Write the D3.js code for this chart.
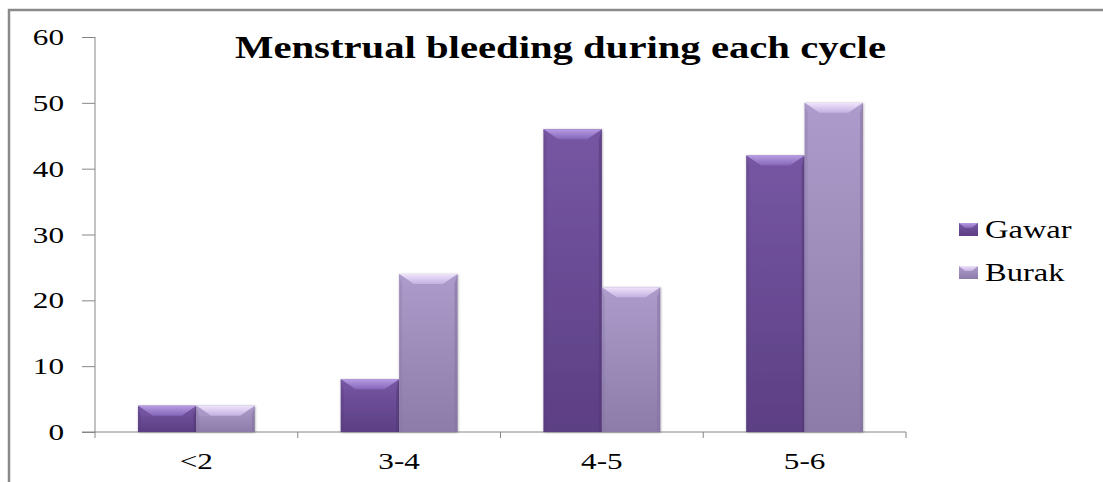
<!DOCTYPE html>
<html>
<head>
<meta charset="utf-8">
<script src="https://cdn.jsdelivr.net/npm/d3@7"></script>
<style>
  html, body { margin: 0; padding: 0; background: #fff; }
  svg { display: block; }
  text { font-family: "Liberation Serif", "Times New Roman", serif; fill: #000; }
</style>
</head>
<body>
<svg id="chart" width="1103" height="482"></svg>
<script>
// Days of menstrual bleeding per cycle, by group
const categories = ["<2", "3-4", "4-5", "5-6"];
const seriesNames = ["Gawar", "Burak"];
const gawarValues = [4, 8, 46, 42];
const burakValues = [4, 24, 22, 50];
const yTicks = [0, 10, 20, 30, 40, 50, 60];
const titleText = "Menstrual bleeding during each cycle";

const svg = d3.select("#chart");
const W = 1103, H = 482;
const plot = { left: 95, right: 906, top: 37, bottom: 432 };
const stretch = 1.3;   // wide typeface look

const palette = {
  Gawar: { bodyTop: "#7656a3", bodyBot: "#5c3f84", bevTop: "#b79ce4", bevBot: "#8466b8", side: "#553a7a" },
  Burak: { bodyTop: "#ad9ccb", bodyBot: "#8d7ca9", bevTop: "#efe4fc", bevBot: "#c4b1e0", side: "#85739f" }
};

const defs = svg.append("defs");
Object.entries(palette).forEach(([name, c]) => {
  const g1 = defs.append("linearGradient").attr("id", "body-" + name)
    .attr("x1", 0).attr("y1", 0).attr("x2", 0).attr("y2", 1);
  g1.append("stop").attr("offset", "0%").attr("stop-color", c.bodyTop);
  g1.append("stop").attr("offset", "100%").attr("stop-color", c.bodyBot);
  const g2 = defs.append("linearGradient").attr("id", "bev-" + name)
    .attr("x1", 0).attr("y1", 0).attr("x2", 0).attr("y2", 1);
  g2.append("stop").attr("offset", "0%").attr("stop-color", c.bevTop);
  g2.append("stop").attr("offset", "100%").attr("stop-color", c.bevBot);
});
const shadow = defs.append("filter").attr("id", "soft")
  .attr("x", "-20%").attr("y", "-20%").attr("width", "140%").attr("height", "140%");
shadow.append("feDropShadow").attr("dx", 0.5).attr("dy", 0.5).attr("stdDeviation", 1.2)
  .attr("flood-color", "#000").attr("flood-opacity", 0.35);

// frame
svg.append("path")
  .attr("d", `M9,${H} L9,10 L${W},10`)
  .attr("fill", "none").attr("stroke", "#8a8a8a").attr("stroke-width", 2.5);

const x0 = d3.scaleBand().domain(categories).range([plot.left, plot.right]).paddingInner(0.424).paddingOuter(0.212);
const x1 = d3.scaleBand().domain(seriesNames).range([0, x0.bandwidth()]);
const y = d3.scaleLinear().domain([0, 60]).range([plot.bottom, plot.top]);

function stretchText(sel, k) {
  sel.each(function () {
    const w = this.getComputedTextLength();
    d3.select(this).attr("textLength", w * k).attr("lengthAdjust", "spacingAndGlyphs");
  });
}

// y axis
const yAxis = svg.append("g").attr("transform", `translate(${plot.left},0)`)
  .call(d3.axisLeft(y).tickValues(yTicks).tickSize(13).tickSizeOuter(0).tickFormat(d3.format("d")));
yAxis.select(".domain").attr("stroke", "#868686").attr("d", `M0,${plot.top}V${plot.bottom + 6}`);
yAxis.selectAll(".tick line").attr("stroke", "#868686");
yAxis.selectAll(".tick text").remove();
const yLab = svg.append("g").selectAll("text").data(yTicks).join("text")
  .attr("y", d => y(d) + 8)
  .attr("font-size", 24)
  .text(d => d);
yLab.each(function () {
  const w = this.getComputedTextLength() * stretch;
  d3.select(this).attr("x", 64 - w).attr("textLength", w).attr("lengthAdjust", "spacingAndGlyphs");
});

// x axis with category boundary ticks
const bounds = categories.map(c => x0(c) - x0.step() * x0.paddingInner() / 2);
bounds.push(plot.right);
const xg = svg.append("g");
xg.append("line").attr("x1", plot.left - 13).attr("x2", plot.right)
  .attr("y1", plot.bottom).attr("y2", plot.bottom).attr("stroke", "#868686");
xg.selectAll("line.tk").data(bounds.slice(1)).join("line").attr("class", "tk")
  .attr("x1", d => d).attr("x2", d => d)
  .attr("y1", plot.bottom).attr("y2", plot.bottom + 6).attr("stroke", "#868686");
const xLab = xg.selectAll("text").data(categories).join("text")
  .attr("x", d => x0(d) + x0.bandwidth() / 2)
  .attr("y", 469)
  .attr("text-anchor", "middle")
  .attr("font-size", 24)
  .text(d => d);
stretchText(xLab, stretch);

// bars with bevelled tops
const rows = categories.map((c, i) => ({
  cat: c,
  vals: [{ s: "Gawar", v: gawarValues[i] }, { s: "Burak", v: burakValues[i] }]
}));
const bars = svg.append("g").selectAll("g.grp").data(rows).join("g")
  .attr("transform", d => `translate(${x0(d.cat)},0)`)
  .selectAll("g.bar").data(d => d.vals).join("g").attr("class", "bar");

bars.each(function (d) {
  const g = d3.select(this);
  const bx = x1(d.s), bw = x1.bandwidth();
  const top = y(d.v), bot = y(0), h = bot - top;
  const bvx = Math.min(15, bw / 4), bvy = Math.min(10, h / 2.6);
  const c = palette[d.s];
  g.append("rect").attr("x", bx).attr("y", top).attr("width", bw).attr("height", h)
    .attr("fill", `url(#body-${d.s})`).attr("filter", "url(#soft)");
  // side shading
  g.append("path")
    .attr("d", `M${bx},${top} L${bx + 3},${top + bvy} L${bx + 3},${bot} L${bx},${bot} Z`)
    .attr("fill", c.side).attr("opacity", 0.3);
  g.append("path")
    .attr("d", `M${bx + bw},${top} L${bx + bw - 3},${top + bvy} L${bx + bw - 3},${bot} L${bx + bw},${bot} Z`)
    .attr("fill", c.side).attr("opacity", 0.6);
  // top bevel
  g.append("path")
    .attr("d", `M${bx},${top} L${bx + bw},${top} L${bx + bw - bvx},${top + bvy} L${bx + bvx},${top + bvy} Z`)
    .attr("fill", `url(#bev-${d.s})`);
  g.append("path")
    .attr("d", `M${bx},${top} L${bx + bvx},${top + bvy} L${bx + 3},${top + bvy} L${bx},${top + 2} Z`)
    .attr("fill", c.bodyTop).attr("opacity", 0.6);
});

// title
svg.append("text")
  .attr("x", 235).attr("y", 58)
  .attr("font-size", 31).attr("font-weight", "bold")
  .text(titleText)
  .attr("textLength", 651).attr("lengthAdjust", "spacingAndGlyphs");

// legend
const legend = svg.append("g").selectAll("g").data(seriesNames).join("g")
  .attr("transform", (d, i) => `translate(959,${223 + i * 43})`);
legend.append("rect").attr("width", 19).attr("height", 13)
  .attr("fill", d => `url(#body-${d})`);
legend.append("path")
  .attr("d", "M0,0 L19,0 L13,5 L6,5 Z")
  .attr("fill", d => `url(#bev-${d})`);
const legText = legend.append("text").attr("x", 26).attr("y", 15)
  .attr("font-size", 25).text(d => d);
stretchText(legText, 1.3);
</script>
</body>
</html>
